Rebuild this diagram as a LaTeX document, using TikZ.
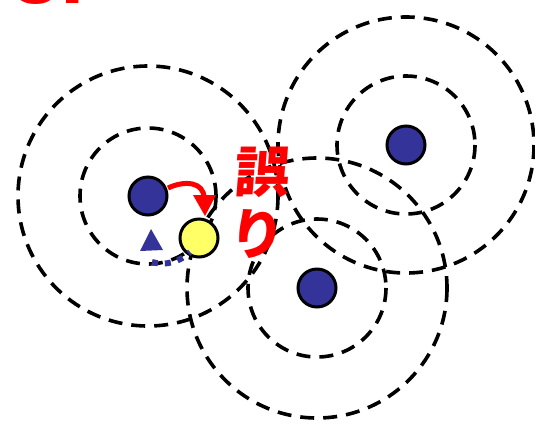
\documentclass[tikz,border=0pt]{standalone}
\usepackage{fontspec}
\setmainfont{Liberation Sans}
\newfontfamily\cjk{Noto Sans CJK JP}
\definecolor{navy}{HTML}{333399}
\definecolor{yel}{HTML}{FFFF66}
\begin{document}
\begin{tikzpicture}[x=1pt,y=-1pt,
  ring/.style={draw=black,line width=3.6pt,dash pattern=on 14pt off 9pt},
  bdot/.style={circle,draw=black,line width=3pt,fill=navy,minimum size=38pt,inner sep=0pt},
  ydot/.style={circle,draw=black,line width=3pt,fill=yel,minimum size=38pt,inner sep=0pt}]
\useasboundingbox (0,0) rectangle (535,424);
\begin{scope}
\clip (0,0) rectangle (535,424);
\node[anchor=base west,text=red,font=\fontsize{88}{88}\selectfont\bfseries,inner sep=0pt] (num) at (11,3) {3.};
\end{scope}
% rings
\coordinate (ca) at (148,196);
\coordinate (cb) at (406,145);
\coordinate (cc) at (317,288);
\draw[ring] (ca) circle[radius=68];
\draw[ring] (ca) circle[radius=130];
\draw[ring] (cb) circle[radius=69];
\draw[ring] (cb) circle[radius=128];
\draw[ring] (cc) circle[radius=69];
\draw[ring] (cc) circle[radius=130];
% dots
\node[bdot] (a) at (148,196) {};
\node[bdot] (b) at (406,145) {};
\node[bdot] (c) at (317,288) {};
\node[ydot] (y) at (199,238) {};
% red arrow
\coordinate (rs) at (168,188);
\coordinate (rt) at (205,216);
\draw[red,line width=5pt] (rs) .. controls (185,180) and (204,182) .. (204,198);
\fill[red] (193,195) -- (216,195) -- (rt) -- cycle;
% blue triangle and dotted arc
\coordinate (t1) at (140,251);
\coordinate (t2) at (151,229);
\coordinate (t3) at (163,250);
\fill[navy] (t1) -- (t2) -- (t3) -- cycle;
\draw[navy,line width=6pt,dash pattern=on 6pt off 7pt] (152,262) .. controls (165,266) and (180,262) .. (190,252);
% text
\node[text=red,font=\cjk\bfseries\fontsize{55}{55}\selectfont,inner sep=0pt,align=center,xslant=0.08] (t) at (260,203) {誤\\[7pt]り};
\end{tikzpicture}
\end{document}
